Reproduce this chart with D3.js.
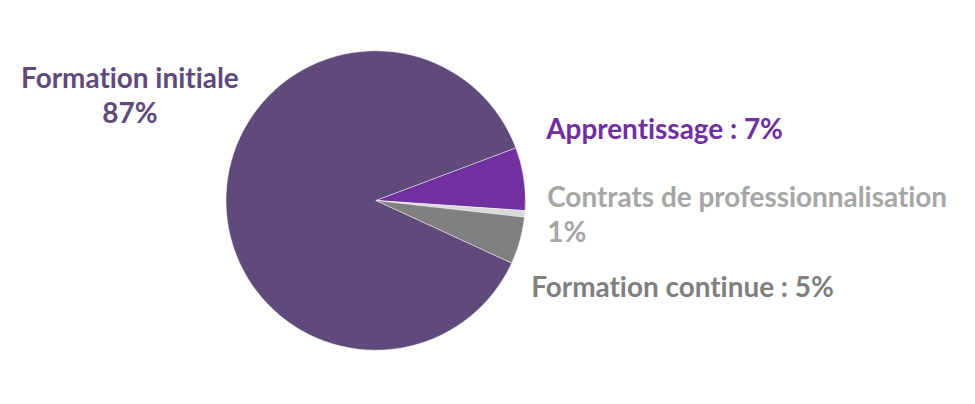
<!DOCTYPE html>
<html>
<head>
<meta charset="utf-8">
<script src="https://cdn.jsdelivr.net/npm/d3@7"></script>
<style>
  html, body { margin: 0; padding: 0; background: #fff; }
  svg { display: block; }
  text { font-family: Lato, "Open Sans", sans-serif; font-weight: 700; font-variant-ligatures: none; font-feature-settings: "liga" 0, "clig" 0; }
</style>
</head>
<body>
<svg id="chart" width="975" height="404"></svg>
<script>
// ---- data ----
const categories = ["Apprentissage", "Contrats de professionnalisation", "Formation continue", "Formation initiale"];
const values = [6.8, 0.7, 5.1, 87.4];
const labelLines = [
  ["Apprentissage : 7%"],
  ["Contrats de professionnalisation", "1%"],
  ["Formation continue : 5%"],
  ["Formation initiale", "87%"]
];

// ---- styles / layout ----
const sliceColors = ["#7030A0", "#D9D9D9", "#808080", "#604A7B"];
const labelColors = ["#7030A0", "#A6A6A6", "#7F7F7F", "#604A7B"];
const cx = 375.7, cy = 200.5, radius = 149.7;
const startDeg = 69.4;
const fontSize = 27.9;
const lineH = 35.5;
// label anchor offsets relative to pie centre (x, baseline of first line), anchor
const labelLayout = [
  { dx: 170.5, dy: -61.5, anchor: "start" },
  { dx: 171.5, dy: 6, anchor: "start" },
  { dx: 155.5, dy: 96, anchor: "start" },
  { dx: -245.8, dy: -113, anchor: "middle" }
];

const svg = d3.select("#chart");
const data = categories.map((c, i) => ({ name: c, value: values[i], i }));

const pie = d3.pie()
  .value(d => d.value)
  .sort(null)
  .startAngle(startDeg * Math.PI / 180)
  .endAngle(startDeg * Math.PI / 180 + 2 * Math.PI);

const arc = d3.arc().innerRadius(0).outerRadius(radius);

const g = svg.append("g").attr("transform", `translate(${cx},${cy})`);

g.selectAll("path")
  .data(pie(data))
  .join("path")
  .attr("d", arc)
  .attr("fill", d => sliceColors[d.data.i])
  .attr("stroke", "#ffffff")
  .attr("stroke-opacity", 0.6)
  .attr("stroke-width", 0.75);

const labels = g.selectAll("text.lbl")
  .data(data)
  .join("text")
  .attr("class", "lbl")
  .attr("fill", d => labelColors[d.i])
  .attr("font-size", fontSize)
  .attr("text-anchor", d => labelLayout[d.i].anchor)
  .attr("x", d => labelLayout[d.i].dx)
  .attr("y", d => labelLayout[d.i].dy);

labels.each(function(d) {
  const t = d3.select(this);
  labelLines[d.i].forEach((line, k) => {
    t.append("tspan")
      .attr("x", labelLayout[d.i].dx)
      .attr("dy", k === 0 ? 0 : lineH)
      .text(line);
  });
});
</script>
</body>
</html>
